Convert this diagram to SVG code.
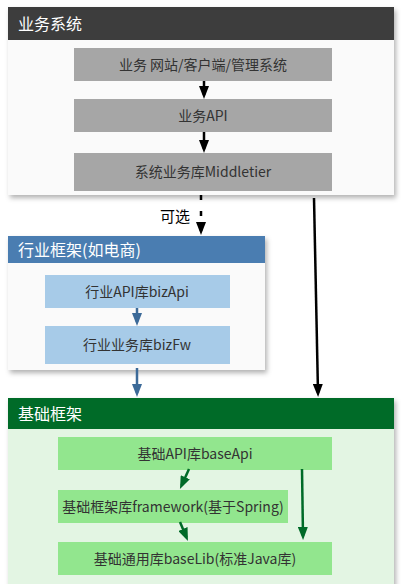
<svg xmlns="http://www.w3.org/2000/svg" width="401" height="584" viewBox="0 0 401 584">
<style>
text{font-family:"Noto Sans CJK SC","Liberation Sans",sans-serif;}
.hd{font-size:16px;fill:#ffffff;}
.lb{font-size:14px;fill:#333333;text-anchor:middle;}
.gray{fill:#a6a6a6;}
.blue{fill:#a7cbe8;}
.green{fill:#92e68e;}
</style>
<defs>
<filter id="sh" x="-10%" y="-10%" width="125%" height="125%">
<feDropShadow dx="2" dy="3" stdDeviation="2.5" flood-color="#000" flood-opacity="0.3"/>
</filter>
<marker id="ak" markerWidth="13" markerHeight="10" refX="9" refY="5" orient="auto" markerUnits="userSpaceOnUse" viewBox="0 0 13 10">
<path d="M0,0 L13,5 L0,10 Z" fill="#000"/>
</marker>
<marker id="ab" markerWidth="13" markerHeight="10" refX="9" refY="5" orient="auto" markerUnits="userSpaceOnUse" viewBox="0 0 13 10">
<path d="M0,0 L13,5 L0,10 Z" fill="#3c6a98"/>
</marker>
<marker id="ag" markerWidth="13" markerHeight="10" refX="9" refY="5" orient="auto" markerUnits="userSpaceOnUse" viewBox="0 0 13 10">
<path d="M0,0 L13,5 L0,10 Z" fill="#006a28"/>
</marker>
</defs>
<rect width="401" height="584" fill="#ffffff"/>

<g id="biz-system">
<rect x="8" y="7" width="386" height="188" fill="#fafafa" filter="url(#sh)"/>
<rect x="8" y="7" width="386" height="33" fill="#3d3d3d"/>
<text class="hd" x="18" y="30">业务系统</text>
</g>
<g id="biz-web">
<rect class="gray" x="74" y="48" width="258" height="33"/>
<text class="lb" x="203" y="70">业务 网站/客户端/管理系统</text>
</g>
<g id="biz-api">
<rect class="gray" x="74" y="99" width="258" height="33"/>
<text class="lb" x="203" y="121">业务API</text>
</g>
<g id="biz-middletier">
<rect class="gray" x="74" y="153" width="258" height="38"/>
<text class="lb" x="203" y="177">系统业务库Middletier</text>
</g>

<g id="industry">
<rect x="8" y="236" width="257" height="134" fill="#fafafa" filter="url(#sh)"/>
<rect x="8" y="236" width="257" height="27" fill="#4a7db1"/>
<text class="hd" x="18" y="256">行业框架(如电商)</text>
</g>
<g id="biz-api-lib">
<rect class="blue" x="45" y="275" width="185" height="33"/>
<text class="lb" x="137" y="297">行业API库bizApi</text>
</g>
<g id="biz-fw">
<rect class="blue" x="45" y="326" width="185" height="38"/>
<text class="lb" x="137" y="350">行业业务库bizFw</text>
</g>

<g id="base">
<rect x="8" y="398" width="386" height="190" fill="#e3f5e3" filter="url(#sh)"/>
<rect x="8" y="398" width="386" height="31" fill="#006b28"/>
<text class="hd" x="18" y="420">基础框架</text>
</g>
<g id="base-api">
<rect class="green" x="58" y="437" width="274" height="33"/>
<text class="lb" x="195" y="459">基础API库baseApi</text>
</g>
<g id="framework">
<rect class="green" x="58" y="490" width="230" height="33"/>
<text class="lb" x="173" y="512">基础框架库framework(基于Spring)</text>
</g>
<g id="base-lib">
<rect class="green" x="58" y="542" width="274" height="33"/>
<text class="lb" x="195" y="564">基础通用库baseLib(标准Java库)</text>
</g>

<g id="connectors" fill="none">
<line x1="204" y1="81" x2="204" y2="95" stroke="#000" stroke-width="2.5" marker-end="url(#ak)"/>
<line x1="204" y1="132" x2="204" y2="149" stroke="#000" stroke-width="2.5" marker-end="url(#ak)"/>
<line x1="201" y1="195" x2="201" y2="231" stroke="#000" stroke-width="2.5" stroke-dasharray="5,11" marker-end="url(#ak)"/>
<line x1="314" y1="198" x2="318" y2="393" stroke="#000" stroke-width="2.5" marker-end="url(#ak)"/>
<line x1="137" y1="308" x2="137" y2="322" stroke="#3c6a98" stroke-width="2.5" marker-end="url(#ab)"/>
<line x1="137" y1="368" x2="137" y2="393" stroke="#3c6a98" stroke-width="2.5" marker-end="url(#ab)"/>
<line x1="189" y1="469" x2="181.6" y2="485.4" stroke="#006a28" stroke-width="2.5" marker-end="url(#ag)"/>
<line x1="180" y1="522" x2="186.4" y2="537.3" stroke="#006a28" stroke-width="2.5" marker-end="url(#ag)"/>
<line x1="302" y1="469" x2="303" y2="536" stroke="#006a28" stroke-width="2.5" marker-end="url(#ag)"/>
<text x="160" y="222" font-size="15" fill="#000">可选</text>
</g>
</svg>
